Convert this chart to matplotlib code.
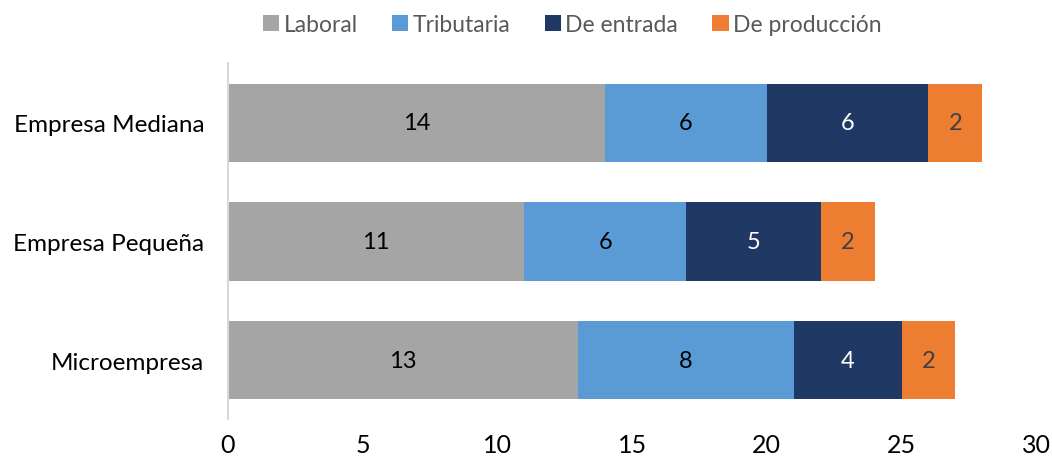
import numpy as np
import matplotlib.pyplot as plt

plt.rcParams['font.family'] = ['Lato', 'DejaVu Sans']

categorias = ['Microempresa', 'Empresa Pequeña', 'Empresa Mediana']
series = ['Laboral', 'Tributaria', 'De entrada', 'De producción']
laboral = [13, 11, 14]
tributaria = [8, 6, 6]
entrada = [4, 5, 6]
produccion = [2, 2, 2]
valores = [laboral, tributaria, entrada, produccion]

colores = ['#A5A5A5', '#5B9BD5', '#203864', '#ED7D31']
color_texto = ['#000000', '#000000', '#FFFFFF', '#404040']

fig = plt.figure(figsize=(10.52, 4.64), dpi=100)
ax = fig.add_axes([0.2167, 0.094, 0.7683, 0.767])

y = np.arange(len(categorias))
izq = np.zeros(len(categorias))
for nombre, vals, c, tc in zip(series, valores, colores, color_texto):
    barras = ax.barh(y, vals, left=izq, height=0.66, color=c, label=nombre)
    ax.bar_label(barras, labels=[str(v) for v in vals], label_type='center',
                 color=tc, fontsize=17)
    izq += np.array(vals)

ax.set_xlim(0, 30)
ax.set_ylim(-0.5, 2.5)
ax.set_xticks(range(0, 31, 5))
ax.set_yticks(y)
ax.set_yticklabels(categorias)
ax.tick_params(axis='x', length=0, labelsize=18, pad=10)
ax.tick_params(axis='y', length=0, labelsize=17.5, pad=17)
for s in ['top', 'right', 'bottom']:
    ax.spines[s].set_visible(False)
ax.spines['left'].set_color('#D9D9D9')
ax.spines['left'].set_linewidth(1.5)

fig.legend(loc='center', bbox_to_anchor=(0.544, 0.945), ncol=4, frameon=False,
           fontsize=16.5, labelcolor='#595959', handlelength=0.7, handleheight=0.7,
           handletextpad=0.2, columnspacing=1.5)

fig.savefig('out.png', dpi=100)
